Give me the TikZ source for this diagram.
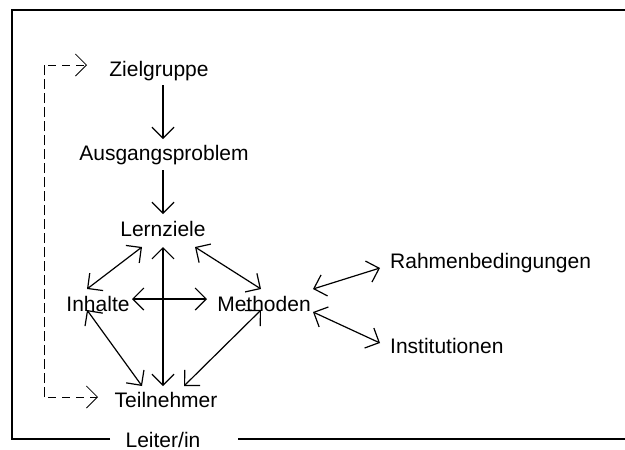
\documentclass[tikz,border=0pt]{standalone}
\usepackage{fontspec}
\setmainfont{Liberation Sans}
\usetikzlibrary{arrows.meta}

\begin{document}
\begin{tikzpicture}[x=1pt, y=-1pt, inner sep=0pt,
	>={Straight Barb[length=11pt, width=22pt]},
	begriff/.style={font=\fontsize{21}{25}\selectfont, anchor=base},
	pfeil/.style={line width=1.2pt},
	rueck/.style={line width=0.8pt, dash pattern=on 8pt off 6pt}]

	\useasboundingbox (0,0) rectangle (625,450);

	% Rahmen mit Leiter/in
	\coordinate (r_unten_links) at (12,439);
	\coordinate (r_oben_links) at (12,10);
	\coordinate (r_oben_rechts) at (625,10);
	\coordinate (r_unten_rechts) at (625,439);
	\node[begriff](leiter) at (163,447) {Leiter/in};
	\draw[line width=1.5pt] (110,439) -- (r_unten_links) -- (r_oben_links) -- (r_oben_rechts);
	\draw[line width=1.5pt] (238,439) -- (r_unten_rechts);

	\node[begriff](zielgruppe) at (159,76) {Zielgruppe};
	\node[begriff](ausgang) at (164,160) {Ausgangsproblem};
	\node[begriff](lernziele) at (163,236) {Lernziele};
	\node[begriff](inhalte) at (98,311) {Inhalte};
	\node[begriff](methoden) at (264,311) {Methoden};
	\node[begriff](teilnehmer) at (166,407) {Teilnehmer};
	\node[begriff, anchor=base west](rahmen) at (390,268) {Rahmenbedingungen};
	\node[begriff, anchor=base west](institution) at (390,353) {Institutionen};

	\coordinate (z_ende) at (163,85);
	\coordinate (a_start) at (163,139);
	\coordinate (a_ende) at (163,170);
	\coordinate (l_start) at (163,214);

	\coordinate (l_links) at (142,247);
	\coordinate (l_mitte) at (163,247);
	\coordinate (l_rechts) at (195,247);

	\coordinate (i_oben) at (87,289);
	\coordinate (i_rechts) at (132,299);
	\coordinate (i_unten) at (87,310);

	\coordinate (m_oben) at (261,289);
	\coordinate (m_links) at (207,299);
	\coordinate (m_unten) at (261,310);
	\coordinate (m_rechts_oben) at (313,289);
	\coordinate (m_rechts_unten) at (313,312);

	\coordinate (t_links) at (142,386);
	\coordinate (t_mitte) at (163,386);
	\coordinate (t_rechts) at (184,386);

	\coordinate (rb_links) at (380,268);
	\coordinate (in_links) at (380,343);

	% Ablauf
	\draw[->, pfeil] (z_ende) -- (a_start);
	\draw[->, pfeil] (a_ende) -- (l_start);

	% Beziehungen
	\draw[<->, pfeil] (l_links) -- (i_oben);
	\draw[<->, pfeil] (l_mitte) -- (t_mitte);
	\draw[<->, pfeil] (l_rechts) -- (m_oben);
	\draw[<->, pfeil] (i_rechts) -- (m_links);
	\draw[<->, pfeil] (i_unten) -- (t_links);
	\draw[<->, pfeil] (m_unten) -- (t_rechts);
	\draw[<->, pfeil] (m_rechts_oben) -- (rb_links);
	\draw[<->, pfeil] (m_rechts_unten) -- (in_links);

	% Rueckkopplung
	\coordinate (d_oben) at (44,65);
	\coordinate (d_unten) at (44,397);
	\coordinate (d_ziel_oben) at (87,65);
	\coordinate (d_ziel_unten) at (98,397);
	\draw[->, rueck] (d_unten) -- (d_oben) -- (d_ziel_oben);
	\draw[->, rueck] (d_oben) -- (d_unten) -- (d_ziel_unten);
\end{tikzpicture}
\end{document}
